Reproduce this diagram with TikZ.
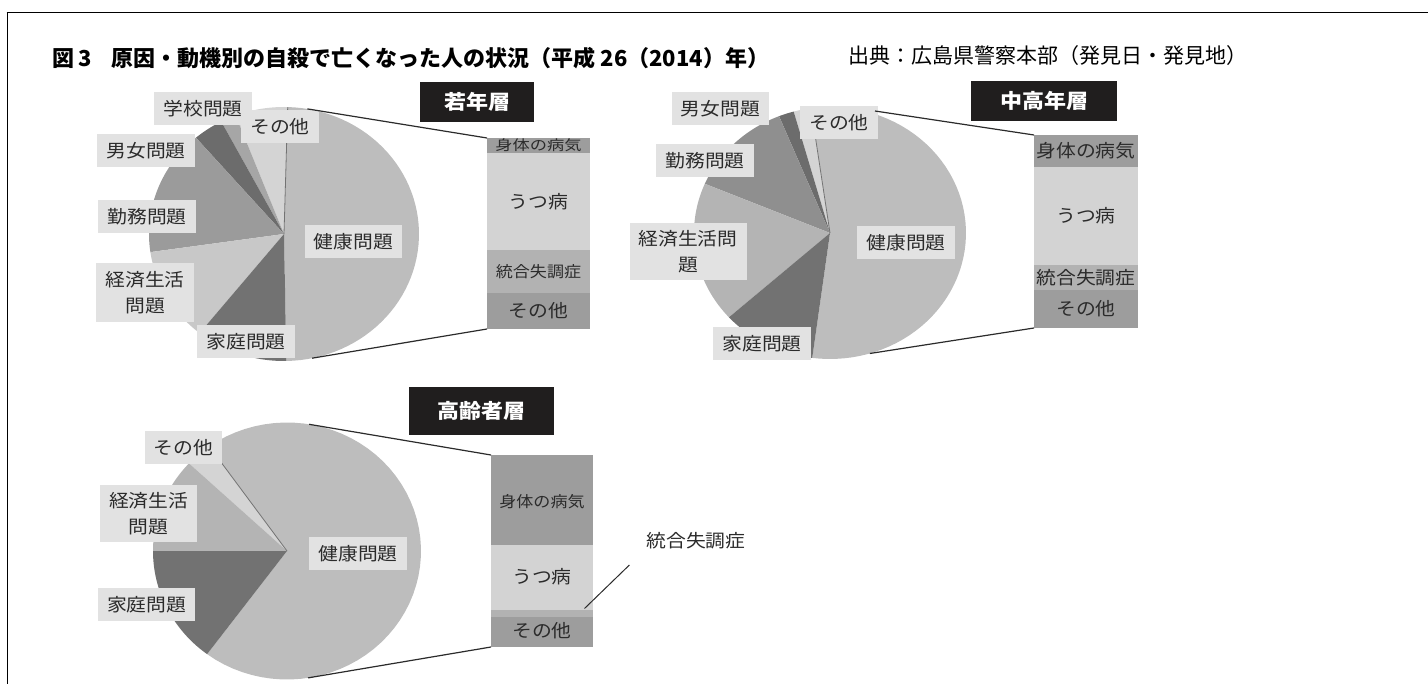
\documentclass[tikz,border=0pt]{standalone}
\usepackage{fontspec}
\newfontfamily\jp{Noto Sans CJK JP}[FakeStretch=1.1]
\newfontfamily\jpn{Noto Sans CJK JP}
\definecolor{cHealth}{HTML}{BDBDBD}
\definecolor{cOther}{HTML}{D4D4D4}
\definecolor{cSchool}{HTML}{A6A6A6}
\definecolor{cLove}{HTML}{6C6C6C}
\definecolor{cWork}{HTML}{9B9B9B}
\definecolor{cWorkB}{HTML}{8F8F8F}
\definecolor{cEcon}{HTML}{C8C8C8}
\definecolor{cEconB}{HTML}{B4B4B4}
\definecolor{cFamily}{HTML}{727272}
\definecolor{bDark}{HTML}{9D9D9D}
\definecolor{bLight}{HTML}{D3D3D3}
\definecolor{bMid}{HTML}{B2B2B2}
\definecolor{lblbg}{HTML}{E2E2E2}
\definecolor{txt}{HTML}{2B2B2B}
\definecolor{tboxbg}{HTML}{201E1E}
\newcommand{\pieslice}[7]{%
  \fill[#7] (#1,#2) -- plot[domain=#5:#6, samples=60, variable=\t] ({#1+#3*cos(\t)},{#2-#4*sin(\t)}) -- cycle;}
\tikzset{
  lbl/.style={fill=lblbg, text=txt, inner xsep=9pt, inner ysep=0pt, minimum height=33pt, align=center, font=\jp\fontsize{18}{26}\selectfont},
  tbox/.style={fill=tboxbg, text=white, inner sep=0pt, minimum height=40pt, font=\jp\bfseries\fontsize{20}{24}\selectfont},
  seg/.style={inner sep=0pt, outer sep=0pt, draw=none},
  btxt/.style={text=txt, inner sep=0pt, font=\jp\fontsize{18}{22}\selectfont},
  conn/.style={draw=txt, line width=1.2pt},
  edge/.style={draw=black!55, line width=0.8pt}
}
\begin{document}
\begin{tikzpicture}[x=1pt,y=-1pt]
\useasboundingbox (0,0) rectangle (1428,684);
% frame
\draw[line width=1.4pt] (6.6,12.3) -- (1428,12.3);
\draw[line width=1pt] (7.3,12.3) -- (7.3,684);
% title
\node[anchor=west, inner sep=0pt, font=\jpn\bfseries\fontsize{22}{26}\selectfont] (title) at (52.7,58) {図\,3\hspace{0.9em}原因・動機別の自殺で亡くなった人の状況（平成 26（2014）年）};
\node[anchor=east, inner sep=0pt, font=\jpn\fontsize{21}{24}\selectfont] (src) at (1248,56) {出典：広島県警察本部（発見日・発見地）};

% ===== Pie 1 =====
\pieslice{284}{234}{135}{127}{-89}{88.4}{cHealth}
\pieslice{284}{234}{135}{127}{88.4}{111}{cOther}
\pieslice{284}{234}{135}{127}{111}{117.7}{cSchool}
\pieslice{284}{234}{135}{127}{117.7}{130.7}{cLove}
\pieslice{284}{234}{135}{127}{130.7}{188.2}{cWork}
\pieslice{284}{234}{135}{127}{188.2}{231.3}{cEcon}
\pieslice{284}{234}{135}{127}{231.3}{271}{cFamily}
\coordinate (c1) at (284,234);
\coordinate (e1) at (287.7,107.1);
\draw[edge] (c1) -- (e1);
\coordinate (p1t) at (307.4,108.9);
\coordinate (p1b) at (312.1,358.2);

\node[lbl] (l1a) at (203,109) {学校問題};
\node[lbl] (l1b) at (280,127) {その他};
\node[lbl] (l1c) at (146,151) {男女問題};
\node[lbl] (l1d) at (147,216.5) {勤務問題};
\node[lbl, minimum height=59pt] (l1e) at (145,292.5) {経済生活\\問題};
\node[lbl] (l1f) at (246,341.5) {家庭問題};
\node[lbl] (l1g) at (353.5,241.5) {健康問題};
\node[tbox, minimum width=114pt] (t1) at (477,102) {若年層};

\node[seg, fill=bDark, minimum width=103pt, minimum height=15pt] (b1a) at (538.5,145.5) {};
\node[seg, fill=bLight, minimum width=103pt, minimum height=97pt] (b1b) at (538.5,201.5) {};
\node[seg, fill=bMid, minimum width=103pt, minimum height=43pt] (b1c) at (538.5,271.5) {};
\node[seg, fill=bDark, minimum width=103pt, minimum height=36pt] (b1d) at (538.5,311) {};
\node[btxt, font=\jp\fontsize{14}{16}\selectfont, xscale=1.12] (x1a) at (b1a) {身体の病気};
\node[btxt] (x1b) at (b1b) {うつ病};
\node[btxt, font=\jp\fontsize{15.5}{18}\selectfont] (x1c) at (b1c) {統合失調症};
\node[btxt] (x1d) at (b1d) {その他};
\draw[conn] (p1t) -- (b1a.north west);
\draw[conn] (p1b) -- (b1d.south west);

% ===== Pie 2 =====
\pieslice{830}{233}{136}{126}{-97.5}{98}{cHealth}
\pieslice{830}{233}{136}{126}{98}{105.5}{cOther}
\pieslice{830}{233}{136}{126}{105.5}{112}{cLove}
\pieslice{830}{233}{136}{126}{112}{157}{cWorkB}
\pieslice{830}{233}{136}{126}{157}{222}{cEconB}
\pieslice{830}{233}{136}{126}{222}{262.5}{cFamily}
\coordinate (c2) at (830,233);
\coordinate (e2) at (811,108.2);
\draw[edge] (c2) -- (e2);
\coordinate (p2t) at (875,111);
\coordinate (p2b) at (869.8,353.5);

\node[lbl] (l2a) at (720.5,109) {男女問題};
\node[lbl] (l2b) at (839,122.5) {その他};
\node[lbl] (l2c) at (705,161) {勤務問題};
\node[lbl, minimum height=57pt] (l2d) at (688,251.5) {経済生活問\\題};
\node[lbl] (l2e) at (762,344) {家庭問題};
\node[lbl] (l2f) at (906,242.5) {健康問題};
\node[tbox, minimum width=146pt] (t2) at (1044,101) {中高年層};

\node[seg, fill=bDark, minimum width=104pt, minimum height=32pt] (b2a) at (1086,151) {};
\node[seg, fill=bLight, minimum width=104pt, minimum height=98pt] (b2b) at (1086,216) {};
\node[seg, fill=bMid, minimum width=104pt, minimum height=25pt] (b2c) at (1086,277.5) {};
\node[seg, fill=bDark, minimum width=104pt, minimum height=38pt] (b2d) at (1086,309) {};
\node[btxt] (x2a) at (b2a) {身体の病気};
\node[btxt] (x2b) at (b2b) {うつ病};
\node[btxt] (x2c) at (b2c) {統合失調症};
\node[btxt] (x2d) at (b2d) {その他};
\draw[conn] (p2t) -- (b2a.north west);
\draw[conn] (p2b) -- (b2d.south west);

% ===== Pie 3 =====
\pieslice{287}{551}{134}{128.5}{-126.6}{125.5}{cHealth}
\pieslice{287}{551}{134}{128.5}{125.5}{137}{cOther}
\pieslice{287}{551}{134}{128.5}{137}{180}{cEconB}
\pieslice{287}{551}{134}{128.5}{180}{233.4}{cFamily}
\coordinate (c3) at (287,551);
\coordinate (e3) at (209,446);
\draw[edge] (c3) -- (e3);
\coordinate (p3t) at (309.1,424.3);
\coordinate (p3b) at (308,677.9);

\node[lbl] (l3a) at (183.4,447.5) {その他};
\node[lbl, minimum height=57pt] (l3b) at (148.7,513.3) {経済生活\\問題};
\node[lbl] (l3c) at (146.7,604.8) {家庭問題};
\node[lbl] (l3d) at (358,553.3) {健康問題};
\node[tbox, minimum width=145pt, minimum height=48pt] (t3) at (481.5,411) {高齢者層};

\node[seg, fill=bDark, minimum width=102pt, minimum height=90pt] (b3a) at (542,500) {};
\node[seg, fill=bLight, minimum width=102pt, minimum height=65pt] (b3b) at (542,577.5) {};
\node[seg, fill=bMid, minimum width=102pt, minimum height=7pt] (b3c) at (542,613.5) {};
\node[seg, fill=bDark, minimum width=102pt, minimum height=30pt] (b3d) at (542,632) {};
\node[btxt, font=\jp\fontsize{15.5}{18}\selectfont] (x3a) at (542,502) {身体の病気};
\node[btxt] (x3b) at (542,577) {うつ病};
\node[btxt] (x3d) at (542,631) {その他};
\draw[conn] (p3t) -- (b3a.north west);
\draw[conn] (p3b) -- (b3d.south west);

\node[btxt] (s3) at (696,541) {統合失調症};
\coordinate (s3a) at (584.5,608.5);
\coordinate (s3b) at (629.4,565);
\draw[draw=txt, line width=1pt] (s3a) -- (s3b);
\end{tikzpicture}
\end{document}
